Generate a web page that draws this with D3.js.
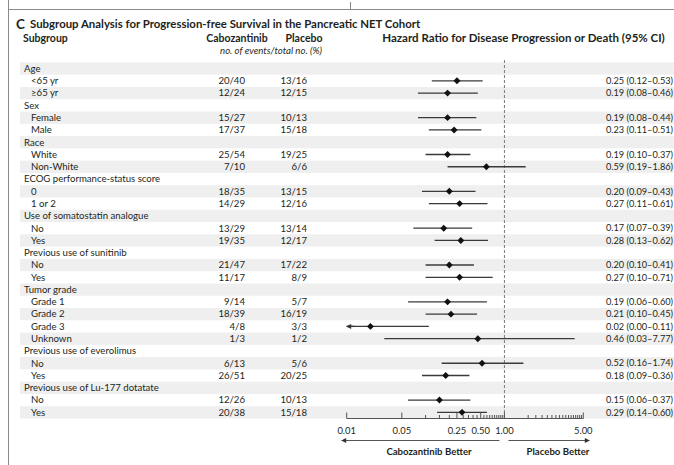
<!DOCTYPE html>
<html>
<head>
<meta charset="utf-8">
<script src="https://cdn.jsdelivr.net/npm/d3@7/dist/d3.min.js"></script>
<style>
  html, body { margin: 0; padding: 0; background: #fff; }
  svg { display: block; font-family: Lato, "Open Sans", sans-serif; }
</style>
</head>
<body>
<svg id="chart" width="674" height="465"></svg>
<script>
// Subgroup rows of the forest plot (group headers carry no estimates)
const subgroupLabels = [
  "Age", "<65 yr", "≥65 yr",
  "Sex", "Female", "Male",
  "Race", "White", "Non-White",
  "ECOG performance-status score", "0", "1 or 2",
  "Use of somatostatin analogue", "No", "Yes",
  "Previous use of sunitinib", "No", "Yes",
  "Tumor grade", "Grade 1", "Grade 2", "Grade 3", "Unknown",
  "Previous use of everolimus", "No", "Yes",
  "Previous use of Lu-177 dotatate", "No", "Yes"
];
const isGroupHeader = [
  1, 0, 0, 1, 0, 0, 1, 0, 0, 1, 0, 0, 1, 0, 0,
  1, 0, 0, 1, 0, 0, 0, 0, 1, 0, 0, 1, 0, 0
];
const cabozantinibEvents = [
  "", "20/40", "12/24", "", "15/27", "17/37", "", "25/54", "7/10",
  "", "18/35", "14/29", "", "13/29", "19/35", "", "21/47", "11/17",
  "", "9/14", "18/39", "4/8", "1/3", "", "6/13", "26/51", "", "12/26", "20/38"
];
const placeboEvents = [
  "", "13/16", "12/15", "", "10/13", "15/18", "", "19/25", "6/6",
  "", "13/15", "12/16", "", "13/14", "12/17", "", "17/22", "8/9",
  "", "5/7", "16/19", "3/3", "1/2", "", "5/6", "20/25", "", "10/13", "15/18"
];
const hazardRatio = [
  null, 0.25, 0.19, null, 0.19, 0.23, null, 0.19, 0.59,
  null, 0.20, 0.27, null, 0.17, 0.28, null, 0.20, 0.27,
  null, 0.19, 0.21, 0.02, 0.46, null, 0.52, 0.18, null, 0.15, 0.29
];
const ciLower = [
  null, 0.12, 0.08, null, 0.08, 0.11, null, 0.10, 0.19,
  null, 0.09, 0.11, null, 0.07, 0.13, null, 0.10, 0.10,
  null, 0.06, 0.10, 0.00, 0.03, null, 0.16, 0.09, null, 0.06, 0.14
];
const ciUpper = [
  null, 0.53, 0.46, null, 0.44, 0.51, null, 0.37, 1.86,
  null, 0.43, 0.61, null, 0.39, 0.62, null, 0.41, 0.71,
  null, 0.60, 0.45, 0.11, 7.77, null, 1.74, 0.36, null, 0.37, 0.60
];

// Axis ticks
const axisTickValues = [0.01, 0.05, 0.25, 0.5, 1, 10];
const axisTickLabels = ["0.01", "0.05", "0.25", "0.50", "1.00", "5.00"];
const minorTickValues = [
  0.1, 0.15, 0.2, 0.3, 0.35, 0.4, 0.45, 0.55, 0.6, 0.65, 0.7, 0.75, 0.8, 0.85, 0.9, 0.95,
  2, 2.5, 3, 3.5, 4, 4.5, 5, 5.5, 6, 6.5, 7, 7.5, 8, 8.5, 9, 9.5
];

const svg = d3.select("#chart");
const ink = "#231f20";
const n = subgroupLabels.length;

const x = d3.scaleLog().domain([0.01, 10]).range([346.7, 583.3]);
const y = d3.scaleBand().domain(d3.range(n)).range([62.4, 418.5]);
const rowMid = i => y(i) + y.bandwidth() / 2;

// Frame rules
svg.append("line").attr("x1", 8.5).attr("x2", 8.5).attr("y1", 0).attr("y2", 465)
  .attr("stroke", "#8a8a8a").attr("stroke-width", 1);
svg.append("line").attr("x1", 8).attr("x2", 674).attr("y1", 9.5).attr("y2", 9.5)
  .attr("stroke", "#8a8a8a").attr("stroke-width", 1);
svg.append("line").attr("x1", 350.5).attr("x2", 350.5).attr("y1", 2).attr("y2", 9)
  .attr("stroke", "#8a8a8a").attr("stroke-width", 1);

// Zebra stripes
svg.append("g").selectAll("rect")
  .data(d3.range(n).filter(i => i % 2 === 0))
  .join("rect")
  .attr("x", 20).attr("width", 654)
  .attr("y", i => y(i)).attr("height", y.bandwidth())
  .attr("fill", "#efefef");

// Title and headers
svg.append("text").attr("x", 16).attr("y", 28.5)
  .attr("font-size", 13.5).attr("font-weight", 700).attr("fill", ink).text("C");
svg.append("text").attr("x", 30).attr("y", 28)
  .attr("font-size", 11.4).attr("font-weight", 700).attr("fill", ink)
  .text("Subgroup Analysis for Progression-free Survival in the Pancreatic NET Cohort");
svg.append("text").attr("x", 23).attr("y", 42)
  .attr("font-size", 10.5).attr("font-weight", 700).attr("fill", ink).text("Subgroup");
svg.append("text").attr("x", 237).attr("y", 42).attr("text-anchor", "middle")
  .attr("font-size", 10.5).attr("font-weight", 700).attr("fill", ink).text("Cabozantinib");
svg.append("text").attr("x", 304).attr("y", 42).attr("text-anchor", "middle")
  .attr("font-size", 10.5).attr("font-weight", 700).attr("fill", ink).text("Placebo");
svg.append("text").attr("x", 322).attr("y", 54).attr("text-anchor", "end")
  .attr("font-size", 9.6).attr("font-style", "italic").attr("fill", ink)
  .text("no. of events/total no. (%)");
svg.append("text").attr("x", 523.5).attr("y", 42).attr("text-anchor", "middle")
  .attr("font-size", 11.5).attr("font-weight", 700).attr("fill", ink)
  .text("Hazard Ratio for Disease Progression or Death (95% CI)");

// Row text
const rows = svg.append("g").attr("font-size", 9.6).attr("fill", ink);
rows.selectAll(".lab").data(d3.range(n)).join("text")
  .attr("x", i => isGroupHeader[i] ? 24 : 31)
  .attr("y", rowMid).attr("dy", "0.35em")
  .text(i => subgroupLabels[i]);
rows.selectAll(".cab").data(d3.range(n)).join("text")
  .attr("x", 245).attr("y", rowMid).attr("dy", "0.35em").attr("text-anchor", "end")
  .text(i => cabozantinibEvents[i]);
rows.selectAll(".pla").data(d3.range(n)).join("text")
  .attr("x", 307).attr("y", rowMid).attr("dy", "0.35em").attr("text-anchor", "end")
  .text(i => placeboEvents[i]);
const fmt = d3.format(".2f");
rows.selectAll(".hr").data(d3.range(n).filter(i => hazardRatio[i] != null)).join("text")
  .attr("x", 606).attr("y", rowMid).attr("dy", "0.35em").attr("font-size", 9.2)
  .text(i => `${fmt(hazardRatio[i])} (${fmt(ciLower[i])}–${fmt(ciUpper[i])})`);

// Reference line at HR = 1
svg.append("line")
  .attr("x1", x(1)).attr("x2", x(1)).attr("y1", 60).attr("y2", 418.5)
  .attr("stroke", "#7a7a7a").attr("stroke-width", 1).attr("stroke-dasharray", "3,2");

// Axis
const axisY = 418.5;
const axisG = svg.append("g").attr("transform", `translate(0,${axisY})`);
axisG.append("line").attr("x1", x(0.01)).attr("x2", x(10)).attr("stroke", "#555");
axisG.selectAll(".minor").data(minorTickValues).join("line")
  .attr("x1", d => x(d)).attr("x2", d => x(d)).attr("y1", 0).attr("y2", -3.5)
  .attr("stroke", "#555");
axisG.selectAll(".major").data(axisTickValues).join("line")
  .attr("x1", d => x(d)).attr("x2", d => x(d)).attr("y1", 0).attr("y2", -6)
  .attr("stroke", "#555");
axisG.selectAll(".tl").data(axisTickValues).join("text")
  .attr("x", d => x(d)).attr("y", 15).attr("text-anchor", "middle")
  .attr("font-size", 9.4).attr("fill", ink)
  .text((d, i) => axisTickLabels[i]);

// Direction arrows
const defs = svg.append("defs");
defs.append("marker").attr("id", "ah").attr("viewBox", "0 0 10 10")
  .attr("refX", 9).attr("refY", 5).attr("markerWidth", 7).attr("markerHeight", 5)
  .attr("markerUnits", "userSpaceOnUse").attr("orient", "auto")
  .append("path").attr("d", "M0,0 L10,5 L0,10 Z").attr("fill", "#333");
svg.append("line").attr("x1", x(1) - 5).attr("x2", x(0.01) - 5)
  .attr("y1", 440.5).attr("y2", 440.5).attr("stroke", "#555").attr("marker-end", "url(#ah)");
svg.append("line").attr("x1", x(1) + 4).attr("x2", x(10) + 6)
  .attr("y1", 440.5).attr("y2", 440.5).attr("stroke", "#555").attr("marker-end", "url(#ah)");
svg.append("text").attr("x", 429).attr("y", 455).attr("text-anchor", "middle")
  .attr("font-size", 9.6).attr("font-weight", 700).attr("fill", ink).text("Cabozantinib Better");
svg.append("text").attr("x", 558).attr("y", 455).attr("text-anchor", "middle")
  .attr("font-size", 9.6).attr("font-weight", 700).attr("fill", ink).text("Placebo Better");

// Confidence intervals and point estimates
const est = d3.range(n).filter(i => hazardRatio[i] != null);
const clampLo = v => Math.max(v, 0.01);
const marks = svg.append("g");
marks.selectAll(".ci").data(est).join("line")
  .attr("x1", i => x(clampLo(ciLower[i]))).attr("x2", i => x(ciUpper[i]))
  .attr("y1", rowMid).attr("y2", rowMid)
  .attr("stroke", "#3a3a3a").attr("stroke-width", 1.3);
// open-ended intervals below the axis minimum get an arrowhead
marks.selectAll(".ciArrow").data(est.filter(i => ciLower[i] < 0.01)).join("line")
  .attr("x1", i => x(clampLo(ciLower[i])) + 8).attr("x2", i => x(clampLo(ciLower[i])))
  .attr("y1", rowMid).attr("y2", rowMid)
  .attr("stroke", "#3a3a3a").attr("stroke-width", 1.3).attr("marker-end", "url(#ah)");
marks.selectAll(".pt").data(est).join("path")
  .attr("d", d3.symbol(d3.symbolSquare, 24))
  .attr("transform", i => `translate(${x(hazardRatio[i])},${rowMid(i)}) rotate(45)`)
  .attr("fill", "#111");
</script>
</body>
</html>
